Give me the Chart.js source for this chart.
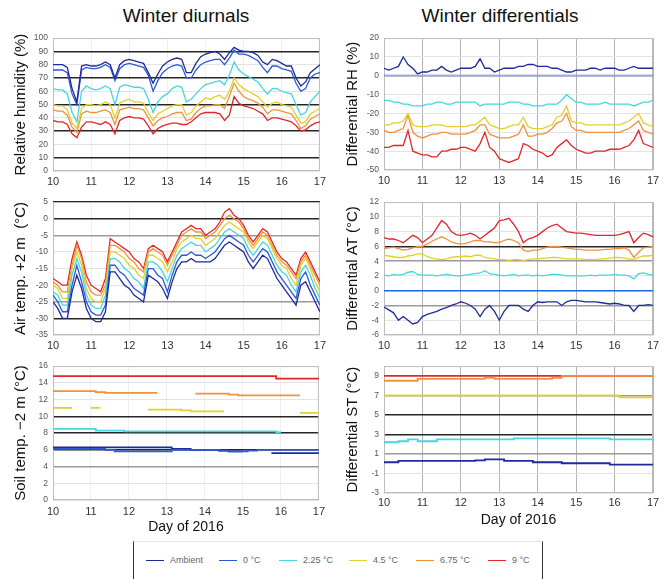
<!DOCTYPE html>
<html>
<head>
<meta charset="utf-8">
<script src="https://cdn.jsdelivr.net/npm/chart.js@4"></script>
<style>
body { margin: 0; background: #fff; font-family: "Liberation Sans", Arial, sans-serif; }
#wrap { position: relative; width: 667px; height: 579px; overflow: hidden; }
#wrap canvas { position: absolute; }
.title { position: absolute; top: 5px; width: 300px; text-align: center; font-size: 19px; color: #111; }
#legend { position: absolute; left: 133px; top: 541px; width: 408px; height: 44px;
  border-left: 1.5px solid #333; border-right: 1.5px solid #333; border-top: 1px solid #e4e4e4; }
.li { position: absolute; top: 13px; font-size: 9px; color: #666; white-space: nowrap; }
.li span { display: inline-block; width: 18px; height: 0; border-top: 1.5px solid; vertical-align: middle; margin-right: 6px; }
</style>
</head>
<body>
<div id="wrap">
  <div class="title" style="left:36px">Winter diurnals</div>
  <div class="title" style="left:350px">Winter differentials</div>
  <div id="legend"></div>
</div>
<script>
const days8 = [10,10.125,10.25,10.375,10.5,10.625,10.75,10.875,11,11.125,11.25,11.375,11.5,11.625,11.75,11.875,
  12,12.125,12.25,12.375,12.5,12.625,12.75,12.875,13,13.125,13.25,13.375,13.5,13.625,13.75,13.875,
  14,14.125,14.25,14.375,14.5,14.625,14.75,14.875,15,15.125,15.25,15.375,15.5,15.625,15.75,15.875,
  16,16.125,16.25,16.375,16.5,16.625,16.75,16.875,17];
const days4 = [10,10.25,10.5,10.75,11,11.25,11.5,11.75,12,12.25,12.5,12.75,13,13.25,13.5,13.75,
  14,14.25,14.5,14.75,15,15.25,15.5,15.75,16,16.25,16.5,16.75,17];
const dayEnds = [10, 17];
const dayTicks = [10, 11, 12, 13, 14, 15, 16, 17];

const legendLabels = ["Ambient", "0 °C", "2.25 °C", "4.5 °C", "6.75 °C", "9 °C"];
const colors = ["#1f2a9a", "#2a5ad8", "#45d6e2", "#e2d12c", "#f0913c", "#e2262b"];

// relative humidity (%)
const rhAmbient = [80,80,80,78,62,52,79,80, 79,79,80,82,80,70,80,83, 84,83,82,81,74,66,73,79, 82,84,85,84,74,74,81,86,
  88,89,90,88,84,89,93,91, 90,90,89,87,82,80,84,83, 81,79,79,70,64,67,74,77, 80];
const rh0 = [76,76,76,74,58,50,76,78, 77,77,78,80,78,68,77,80, 81,80,79,78,72,60,68,74, 77,79,80,79,70,70,76,80,
  82,83,84,84,80,85,91,88, 88,87,85,83,78,74,79,79, 77,76,75,66,60,62,70,73, 74];
const rh225 = [62,61,61,58,44,37,60,64, 62,61,62,64,62,50,63,65, 64,63,63,62,54,44,52,56, 58,62,64,63,52,54,58,62,
  65,66,67,68,65,72,82,76, 73,71,69,67,62,58,62,62, 60,59,58,50,42,44,52,56, 60];
const rh45 = [50,49,49,46,36,32,47,50, 50,49,50,52,50,40,51,53, 54,52,52,51,44,38,43,45, 47,49,50,50,42,44,49,52,
  55,54,56,57,54,60,70,65, 62,60,58,56,52,48,51,52, 50,49,48,42,36,37,43,45, 47];
const rh675 = [46,45,45,42,33,29,43,45, 44,44,45,46,44,35,46,47, 48,47,47,46,40,34,38,40, 41,43,44,44,38,39,44,47,
  49,49,50,50,47,56,66,60, 56,54,53,51,48,43,46,46, 45,44,43,38,32,34,39,41, 43];
const rh9 = [38,37,37,35,28,25,33,37, 37,36,35,37,35,28,38,40, 41,40,40,39,34,28,32,34, 35,36,36,35,35,37,40,43,
  44,44,44,43,38,42,56,51, 49,48,47,45,43,38,40,40, 39,38,37,34,30,31,34,36, 37];

// air temperature +2 m (°C)
const atAmbient = [-25,-27,-30,-30,-22,-17,-21,-27, -30,-31,-31,-28,-16,-16,-18,-20, -21,-23,-24,-25,-17,-18,-19,-21,
  -24,-19,-15,-13,-13,-12,-13,-13, -13,-13,-12,-10,-8,-7,-8,-9, -10,-13,-15,-13,-11,-12,-15,-18, -20,-22,-24,-26,-20,-19,-22,-25, -28];
const at0 = [-23,-25,-28,-28,-20,-14,-19,-25, -28,-29,-29,-26,-14,-14,-16,-17, -19,-21,-22,-23,-15,-15,-17,-18,
  -22,-17,-13,-11,-11,-10,-11,-11, -12,-11,-10,-8,-6,-5,-6,-7, -8,-11,-13,-11,-9,-10,-13,-16, -18,-20,-22,-24,-18,-16,-20,-23, -26];
const at225 = [-22,-23,-26,-26,-17,-12,-16,-23, -26,-27,-27,-23,-12,-12,-13,-15, -16,-18,-19,-21,-13,-13,-14,-16,
  -19,-15,-11,-9,-8,-7,-8,-8, -10,-9,-8,-6,-4,-3,-4,-5, -6,-9,-11,-9,-7,-8,-11,-14, -16,-17,-20,-22,-16,-14,-17,-21, -24];
const at45 = [-20,-21,-24,-24,-15,-10,-14,-21, -24,-25,-25,-21,-10,-10,-11,-12, -14,-15,-17,-18,-11,-11,-12,-13,
  -16,-13,-9,-7,-6,-5,-6,-6, -8,-7,-6,-4,-2,-1,-2,-3, -4,-7,-9,-7,-5,-6,-9,-12, -14,-15,-18,-20,-14,-12,-15,-19, -22];
const at675 = [-19,-20,-22,-22,-14,-8,-12,-19, -22,-23,-23,-20,-8,-8,-9,-10, -12,-13,-15,-16,-10,-9,-10,-11,
  -14,-11,-8,-5,-4,-3,-4,-4, -6,-5,-4,-2,0,1,0,-1, -3,-6,-8,-6,-4,-5,-8,-11, -13,-14,-16,-18,-13,-11,-14,-17, -20];
const at9 = [-18,-19,-20,-20,-12,-7,-11,-17, -20,-21,-22,-18,-6,-7,-8,-9, -10,-12,-13,-15,-9,-8,-9,-10,
  -13,-10,-7,-4,-3,-2,-3,-3, -5,-4,-3,-1,2,3,1,0, -2,-5,-7,-5,-3,-4,-7,-10, -12,-13,-15,-17,-12,-10,-13,-16, -19];

// soil temperature -2 m (°C)
const stAmbient = [6.3,6.3,6.3,6.3,6.3,6.3,6.3,6.3,6.3,6.3,6.3,6.3,6.3,6.1,6.1,6.0,6.0,6.0,5.9,5.8,5.8,null,null,5.6,5.6,5.6,5.6,5.6,5.6];
const st0 = [6.1,6.1,6.1,6.1,6.1,6.1,6.0,5.8,5.8,5.8,5.8,5.8,5.8,6.0,6.0,6.0,6.0,6.0,5.9,5.8,5.8,5.9,6.0,6.0,6.0,6.0,6.0,6.0,6.0];
const st225 = [8.5,8.5,8.5,8.5,8.5,8.3,8.3,8.3,8.2,8.2,8.2,8.2,8.2,8.2,8.2,8.2,8.2,8.2,8.2,8.2,8.2,8.2,8.2,8.2,8.1,null,null,null,null];
const st45 = [11.0,11.0,11.0,null,11.0,11.0,null,null,null,null,10.8,10.8,10.8,10.8,10.7,10.6,10.6,10.6,10.6,null,null,null,null,null,null,null,10.4,10.4,10.4];
const st675 = [13.0,13.0,13.0,13.0,13.0,12.9,12.8,12.8,12.8,12.8,12.8,12.8,null,null,null,12.7,12.7,12.7,12.7,12.6,12.5,12.5,12.5,12.5,12.5,12.5,12.5,null,null];
const st9 = [14.8,14.8,14.8,14.8,14.8,14.8,14.8,14.8,14.8,14.8,14.8,14.8,14.8,14.8,14.8,14.8,14.8,14.8,14.8,14.8,14.8,14.8,14.8,14.8,14.5,14.5,14.5,14.5,14.5];

// differentials against the 0 °C plot
const drhAmbient = [4,3,4,5,10,6,4,1, 2,2,3,3,5,3,2,3, 4,4,4,5,9,4,4,2, 3,4,4,4,5,5,6,6,
  5,5,5,4,4,3,2,2, 3,3,3,4,4,3,4,4, 4,3,3,4,5,4,4,4, 4];
const drh0 = [0, 0];
const drh225 = [-13,-13,-14,-14,-15,-15,-16,-16, -16,-15,-15,-14,-14,-15,-15,-14, -14,-14,-14,-14,-16,-15,-15,-15,
  -15,-15,-14,-14,-14,-15,-15,-16, -16,-16,-15,-15,-15,-13,-10,-12, -14,-14,-15,-15,-15,-15,-14,-15, -15,-15,-15,-15,-16,-15,-14,-14, -13];
const drh45 = [-26,-26,-25,-25,-24,-20,-26,-27, -27,-27,-26,-26,-26,-27,-27,-27, -27,-27,-26,-26,-24,-22,-26,-27,
  -28,-28,-27,-26,-26,-22,-27,-28, -28,-28,-27,-26,-22,-21,-16,-24, -25,-25,-26,-26,-26,-26,-26,-26, -26,-26,-25,-24,-22,-20,-25,-26, -27];
const drh675 = [-29,-30,-30,-29,-28,-21,-30,-32, -33,-32,-31,-31,-30,-30,-31,-31, -31,-31,-30,-29,-26,-26,-31,-32,
  -33,-33,-33,-32,-31,-26,-32,-32, -31,-31,-30,-28,-25,-24,-20,-27, -29,-29,-30,-30,-30,-30,-30,-30, -30,-30,-29,-28,-26,-24,-29,-30, -31];
const drh9 = [-38,-38,-37,-37,-37,-29,-40,-41, -42,-42,-43,-43,-40,-40,-39,-39, -38,-38,-39,-40,-36,-30,-38,-40,
  -44,-45,-46,-45,-44,-36,-37,-39, -40,-41,-43,-42,-38,-36,-34,-37, -39,-40,-41,-41,-40,-40,-40,-39, -39,-39,-38,-37,-34,-29,-36,-37, -38];

const datAmbient = [-2.2,-2.6,-3,-4,-3.5,-4,-4.5,-4.3, -3.5,-3.2,-3,-2.8,-2.5,-2.3,-2,-1.8, -1.5,-1.7,-2,-2.5,-3.5,-2.5,-2,-2.8,
  -4,-2.8,-2,-2,-2,-2.5,-2.8,-2, -1.5,-1.6,-1.5,-1.5,-1.5,-2,-1.5,-1.3, -1.3,-1.4,-1.5,-1.5,-1.5,-1.6,-1.7,-1.8, -1.7,-1.8,-2,-2,-2.8,-2,-2,-1.9, -2];
const dat0 = [0, 0];
const dat225 = [2.1,2.0,2.2,2.1,2.2,2.5,2.6,2.2, 2.1,2.1,2.1,2.0,2.1,2.2,2.1,2.0, 2.0,2.1,2.2,2.3,2.4,2.7,2.3,2.2,
  2.1,2.0,2.1,2.2,2.0,2.1,2.1,2.0, 2.1,2.0,2.1,2.2,2.2,2.1,2.0,2.0, 2.0,2.0,2.0,2.1,2.0,2.1,2.1,2.1, 2.2,2.1,2.1,2.0,1.6,2.3,2.4,2.2, 2.1];
const dat45 = [4.8,4.7,4.6,4.5,4.5,4.7,4.8,5.0, 5.0,4.6,4.4,4.3,4.2,4.3,4.5,4.6, 4.6,4.7,4.6,4.8,4.8,4.5,4.4,4.3,
  4.2,4.2,4.1,4.2,4.2,4.1,4.2,4.3, 4.3,4.4,4.4,4.5,4.5,4.4,4.3,4.3, 4.3,4.3,4.2,4.2,4.2,4.3,4.3,4.4, 4.5,4.5,4.4,4.3,4.2,4.5,4.7,4.7, 4.8];
const dat675 = [5.7,5.8,5.9,5.7,5.5,5.6,5.8,6.0, 6.0,6.3,6.7,7.0,7.3,7.0,6.6,6.4, 6.3,6.4,6.6,6.8,6.8,6.6,6.6,6.5,
  6.5,6.8,7.0,6.8,6.5,5.5,5.3,5.5, 5.5,5.7,5.9,6.0,6.0,5.9,5.8,5.7, 5.6,5.6,5.5,5.5,5.5,5.5,5.6,5.6, 5.7,5.7,5.8,5.5,4.5,5.2,5.8,5.9, 6.0];
const dat9 = [7.2,7.0,7.0,6.8,6.5,7.0,7.5,7.2, 6.5,7.0,7.5,8.5,9.5,9.0,8.0,7.6, 7.5,7.6,7.8,7.5,7.0,7.5,8.0,8.5,
  9.5,9.6,9.8,9.0,8.0,6.5,7.0,7.2, 7.5,8.0,8.5,8.8,9.0,8.5,8.0,7.9, 7.8,7.8,7.7,7.6,7.5,7.5,7.5,7.5, 7.5,7.6,7.8,8.0,6.5,7.2,7.8,7.6, 7.3];

const dstAmbient = [0.15,0.15,0.3,0.3,0.3,0.3,0.3,0.3,0.3,0.3,0.35,0.45,0.45,0.3,0.3,0.3,0.15,0.15,0.15,0.05,0.05,0.05,0.05,0.05,-0.1,-0.1,-0.1,-0.1,-0.1];
const dst225 = [2.2,2.2,2.3,2.5,2.3,2.3,2.5,2.5,2.5,2.5,2.5,2.5,2.5,2.5,2.6,2.6,2.6,2.6,2.6,2.6,2.6,2.6,2.6,2.6,2.5,2.5,2.5,2.5,2.5];
const dst45 = [7.0,7.0,7.0,7.0,7.0,7.0,7.0,7.0,7.0,7.0,7.0,7.0,7.0,7.0,7.0,7.0,7.0,7.0,7.0,7.0,7.0,7.0,7.0,7.0,7.0,6.8,6.8,6.8,6.8];
const dst675 = [8.5,8.5,8.5,8.5,8.7,8.7,8.7,8.7,8.7,8.7,8.7,8.8,8.7,8.7,8.7,8.7,8.7,8.7,8.8,9.0,9.0,9.0,9.0,9.0,9.0,9.0,9.0,9.0,9.0];
const dst9 = [9.0,9.0,9.0,9.0,9.0,9.0,9.0,9.0,9.0,9.0,9.0,9.0,9.0,9.0,9.0,9.0,9.0,9.0,9.0,9.0,9.0,9.0,9.0,9.0,9.0,9.0,9.0,9.0,9.0];

const wrap = document.getElementById("wrap");

const frame = {
  id: "frame",
  beforeDatasetsDraw(chart) {
    const a = chart.chartArea, c = chart.ctx;
    c.save();
    c.strokeStyle = "#bdbdbd";
    c.lineWidth = 1;
    c.strokeRect(a.left + 0.5, a.top + 0.5, a.width - 1, a.height - 1);
    c.restore();
  }
};

function line(xs, ys, color, width) {
  return {
    data: xs.map((x, i) => ({ x, y: ys[i] })),
    borderColor: color, borderWidth: width || 1.3,
    pointRadius: 0, tension: 0, spanGaps: false
  };
}

function panel(p) {
  const cv = document.createElement("canvas");
  cv.width = p.w; cv.height = p.h;
  cv.style.left = p.x + "px"; cv.style.top = p.y + "px";
  wrap.appendChild(cv);
  const gridColor = c => p.dark.includes(c.tick.value) ? "#262626" : p.mid.includes(c.tick.value) ? "#9a9a9a" : "#e3e3e3";
  const gridWidth = c => (p.dark.includes(c.tick.value) || p.mid.includes(c.tick.value)) ? 1.6 : 1;
  p.series.forEach(s => { if (p.stepped) s.stepped = "middle"; });
  return new Chart(cv, {
    type: "line",
    data: { datasets: p.series },
    options: {
      responsive: false, animation: false, events: [],
      layout: { padding: { top: p.padTop, right: p.padRight, left: 0, bottom: 0 } },
      plugins: { legend: { display: false }, tooltip: { enabled: false } },
      scales: {
        x: {
          type: "linear", min: 10, max: 17,
          afterBuildTicks: s => { s.ticks = dayTicks.map(v => ({ value: v })); },
          afterFit: s => { s.height = p.xh; },
          grid: { drawTicks: false, color: p.vgrid },
          border: { display: false },
          ticks: { padding: p.xpad, autoSkip: false, maxRotation: 0, color: "#333", font: { size: 11 } },
          title: p.xtitle
            ? { display: true, text: "Day of 2016", color: "#111", font: { size: 14 }, padding: { top: 0, bottom: p.xtpad } }
            : { display: false }
        },
        y: {
          min: p.min, max: p.max,
          afterBuildTicks: s => { s.ticks = p.ticks.map(v => ({ value: v })); },
          afterFit: s => { s.width = p.yw; },
          grid: { drawTicks: false, color: gridColor, lineWidth: gridWidth },
          border: { display: false },
          ticks: { padding: 5, color: "#555", font: { size: 8.5 } },
          title: { display: true, text: p.ytitle, color: "#111", font: { size: 15 }, padding: { top: p.ytpad, bottom: 0 } }
        }
      }
    },
    plugins: [frame]
  });
}

const leftCol = { x: 0, w: 330, yw: 53, padRight: 6, ytpad: 12, vgrid: "#efefef" };
const rightCol = { x: 333, w: 334, yw: 51, padRight: 14, ytpad: 11, vgrid: "#b4b4b4" };

panel({ ...leftCol, y: 28, h: 162, padTop: 8, xh: 19, xpad: 4,
  min: 0, max: 100, ticks: [0,10,20,30,40,50,60,70,80,90,100], dark: [90,70,50,30,10], mid: [],
  ytitle: "Relative humidity (%)",
  series: [line(days8, rhAmbient, colors[0]), line(days8, rh0, colors[1]), line(days8, rh225, colors[2]),
           line(days8, rh45, colors[3]), line(days8, rh675, colors[4]), line(days8, rh9, colors[5])] });

panel({ ...rightCol, y: 28, h: 162, padTop: 7, xh: 20, xpad: 4,
  min: -50, max: 20, ticks: [-50,-40,-30,-20,-10,0,10,20], dark: [], mid: [],
  ytitle: "Differential RH (%)",
  series: [line(dayEnds, drh0, "rgba(110,130,190,0.55)", 2.5), line(days8, drhAmbient, colors[0]), line(days8, drh225, colors[2]),
           line(days8, drh45, colors[3]), line(days8, drh675, colors[4]), line(days8, drh9, colors[5])] });

panel({ ...leftCol, y: 192, h: 163, padTop: 9, xh: 20, xpad: 4,
  min: -35, max: 5, ticks: [-35,-30,-25,-20,-15,-10,-5,0,5], dark: [5,0,-30], mid: [-5,-25],
  ytitle: "Air temp. +2 m  (°C)",
  series: [line(days8, atAmbient, colors[0]), line(days8, at0, colors[1]), line(days8, at225, colors[2]),
           line(days8, at45, colors[3]), line(days8, at675, colors[4]), line(days8, at9, colors[5])] });

panel({ ...rightCol, y: 192, h: 163, padTop: 9, xh: 20, xpad: 4,
  min: -6, max: 12, ticks: [-6,-4,-2,0,2,4,6,8,10,12], dark: [6], mid: [4,-2],
  ytitle: "Differential AT (°C)",
  series: [line(dayEnds, dat0, "#1f66e5", 1.6), line(days8, datAmbient, colors[0]), line(days8, dat225, colors[2]),
           line(days8, dat45, colors[3]), line(days8, dat675, colors[4]), line(days8, dat9, colors[5])] });

panel({ ...leftCol, y: 356, h: 182, padTop: 8, xh: 38, xpad: 5, xtitle: true, xtpad: 2.5, stepped: true,
  min: 0, max: 16, ticks: [0,2,4,6,8,10,12,14,16], dark: [10,8,6], mid: [4],
  ytitle: "Soil temp. −2 m (°C)",
  series: [line(days4, st0, colors[1], 1.8), line(days4, stAmbient, colors[0], 1.8), line(days4, st225, colors[2], 1.8),
           line(days4, st45, colors[3], 1.8), line(days4, st675, colors[4], 1.8), line(days4, st9, colors[5], 1.8)] });

panel({ ...rightCol, y: 356, h: 182, padTop: 5, xh: 45, xpad: 3, xtitle: true, xtpad: 9, stepped: true,
  min: -3, max: 10, ticks: [-3,-1,1,3,5,7,9], dark: [5,3], mid: [7,1],
  ytitle: "Differential ST (°C)",
  series: [line(days4, dstAmbient, colors[0], 1.8), line(days4, dst225, colors[2], 1.8), line(days4, dst45, colors[3], 1.8),
           line(days4, dst675, colors[4], 1.8), line(days4, dst9, colors[5], 1.8)] });

// legend
const legendX = [12, 85, 145, 215, 282, 354];
const legend = document.getElementById("legend");
legendLabels.forEach((name, i) => {
  const d = document.createElement("div");
  d.className = "li";
  d.style.left = legendX[i] + "px";
  d.innerHTML = '<span style="border-color:' + colors[i] + '"></span>' + name;
  legend.appendChild(d);
});
</script>
</body>
</html>
